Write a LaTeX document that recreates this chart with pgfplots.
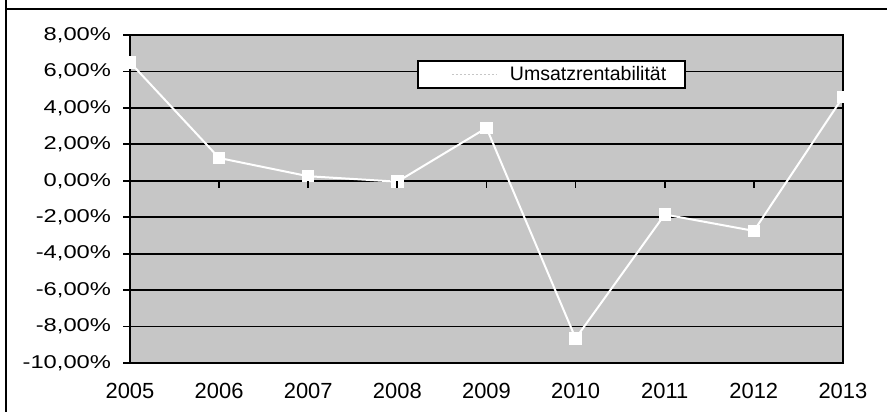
\documentclass[border=0pt]{standalone}
\usepackage{pgfplots}
\pgfplotsset{compat=1.18}
\usepackage{fontspec}
\setmainfont{Liberation Sans}
\newfontfamily\ylabfont{Liberation Sans}[FakeStretch=1.28]
\definecolor{bggray}{RGB}{198,198,198}
\begin{document}
\begin{tikzpicture}
\useasboundingbox (0,0) rectangle (443.5bp,206bp);
\draw[line width=1bp] (3bp,206bp) -- (3bp,201.5bp) -- (443.5bp,201.5bp);
\draw[line width=1bp] (3bp,0bp) -- (3bp,201.5bp);
\begin{axis}[
  at={(65bp,24.5bp)}, anchor=south west,
  scale only axis, width=356.5bp, height=164bp,
  xmin=2005, xmax=2013, ymin=-10, ymax=8,
  axis background/.style={fill=bggray},
  axis line style={line width=0.9bp, black},
  xtick={2005,...,2013},
  xticklabels={2005,2006,2007,2008,2009,2010,2011,2012,2013},
  ytick={-10,-8,...,8},
  yticklabels={-10{,}00\%,-8{,}00\%,-6{,}00\%,-4{,}00\%,-2{,}00\%,0{,}00\%,2{,}00\%,4{,}00\%,6{,}00\%,8{,}00\%},
  ymajorgrids, grid style={line width=0.9bp, black},
  ytick pos=left, xtick pos=bottom,
  x tick style={draw=none},
  y tick style={line width=0.9bp, black},
  tick align=outside, major tick length=3.5bp,
  yticklabel style={font=\ylabfont\fontsize{9.3}{11}\selectfont, xshift=-2.5bp},
  xticklabel style={font=\fontsize{11}{13}\selectfont, yshift=-3bp},
  legend style={at={(0.4025,0.924)}, anchor=north west, draw=black, line width=1bp, fill=white,
    inner xsep=0pt, inner ysep=2.5bp, nodes={inner sep=0pt}, font=\fontsize{9.8}{12}\selectfont},
  legend image code/.code={\path (-16.5bp,0bp) -- (28.5bp,0bp);
    \draw[gray!45, line width=0.8bp, dash pattern=on 1bp off 1bp] (0bp,0bp) -- (22.5bp,0bp);},
]
\addplot[white, line width=1bp, mark=square*, mark size=2.6bp, mark options={fill=white, draw=white}]
  coordinates {(2005,6.5) (2006,1.25) (2007,0.25) (2008,-0.05) (2009,2.9) (2010,-8.65) (2011,-1.85) (2012,-2.75) (2013,4.6)};
\addlegendentry{Umsatzrentabilität\hspace*{9.5bp}}
\end{axis}
\begin{axis}[
  at={(65bp,24.5bp)}, anchor=south west,
  scale only axis, width=356.5bp, height=164bp,
  xmin=2005, xmax=2013, ymin=-10, ymax=8,
  axis x line=middle, axis y line=none,
  axis line style={-, draw=none},
  xtick={2006,...,2012}, xticklabels={},
  tick align=outside, major tick length=3.5bp,
  x tick style={line width=0.9bp, black},
]
\end{axis}
\end{tikzpicture}
\end{document}
